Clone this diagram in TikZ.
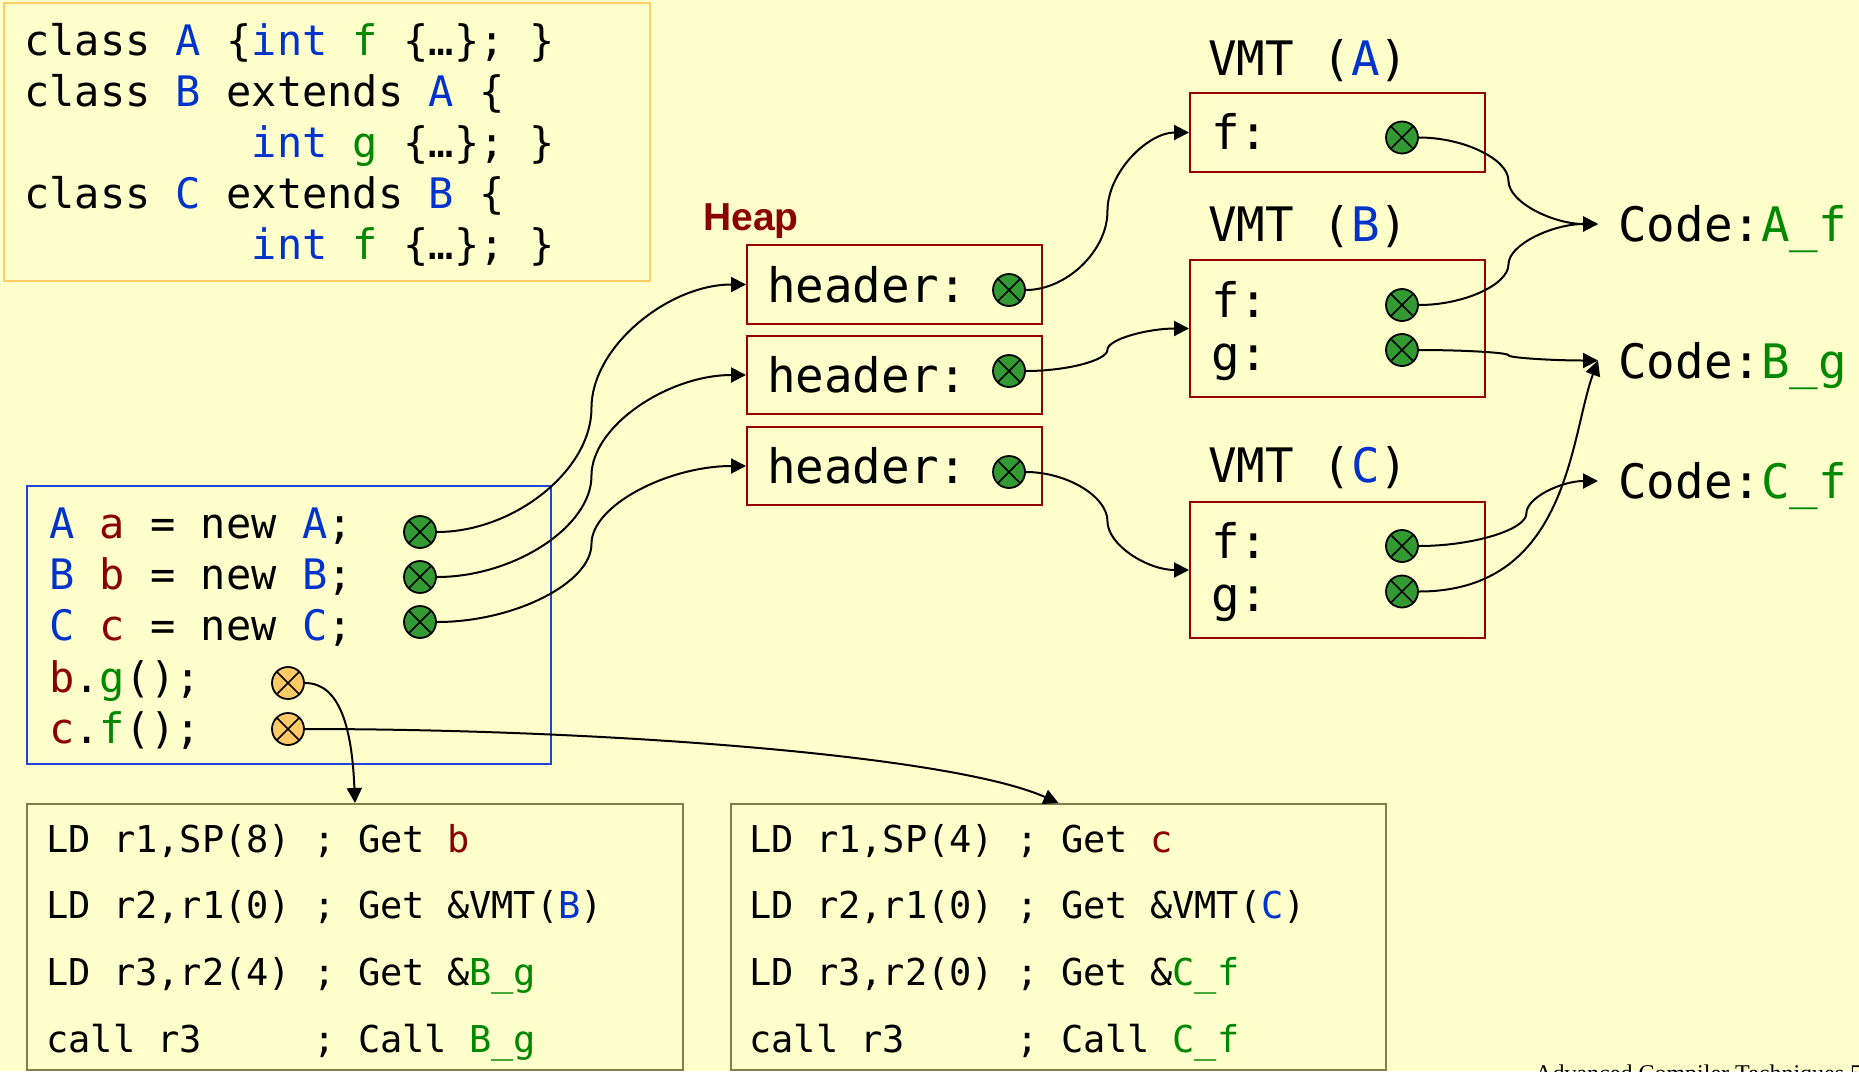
\documentclass[tikz,border=0pt]{standalone}
\usepackage{fontspec}
\setmonofont{DejaVu Sans Mono}
\newfontfamily\heapfont{Liberation Sans}
\newfontfamily\footfont{Liberation Serif}
\usetikzlibrary{arrows.meta,calc}

\definecolor{bg}{HTML}{FFFFCC}
\definecolor{kwblue}{HTML}{0033CC}
\definecolor{varred}{HTML}{8B0000}
\definecolor{fngreen}{HTML}{008800}
\definecolor{dotgreen}{HTML}{339933}
\definecolor{dotorange}{HTML}{FFC966}
\definecolor{boxred}{HTML}{990000}
\definecolor{boxorange}{HTML}{FFCC66}
\definecolor{boxblue}{HTML}{2244DD}
\definecolor{boxolive}{HTML}{7F7F4C}

\newcommand\kw[1]{\textcolor{kwblue}{#1}}
\newcommand\vr[1]{\textcolor{varred}{#1}}
\newcommand\fn[1]{\textcolor{fngreen}{#1}}

\tikzset{
  codetxt/.style={font=\ttfamily\fontsize{42}{50}\selectfont, inner sep=0pt, anchor=base west},
  bigtxt/.style={font=\ttfamily\fontsize{47.5}{56}\selectfont, inner sep=0pt, anchor=base west},
  asmtxt/.style={font=\ttfamily\fontsize{37}{44}\selectfont, inner sep=0pt, anchor=base west},
  codelabel/.style={bigtxt, inner xsep=20pt, inner ysep=0pt, text height=35pt, text depth=0pt},
  frame/.style={rectangle, draw, line width=2pt, inner sep=0pt},
  cell/.style={frame, draw=boxred, minimum width=295pt},
  ptr/.style={circle, draw=black, line width=1.8pt, minimum size=32pt, inner sep=0pt,
    fill=dotgreen,
    path picture={\draw[line width=1.5pt]
      (path picture bounding box.north west) -- (path picture bounding box.south east)
      (path picture bounding box.north east) -- (path picture bounding box.south west);}},
  callptr/.style={ptr, fill=dotorange},
  link/.style={line width=2pt, -{Triangle[length=15pt,width=15pt]}},
  % elbow-style S curve: horizontal out, vertical at the fraction #1 of the width, horizontal in
  sbend/.style={to path={let \p1=(\tikztostart), \p2=(\tikztotarget) in
    .. controls ({\x1+0.5*#1*(\x2-\x1)},\y1) and ({\x1+#1*(\x2-\x1)},{0.75*\y1+0.25*\y2})
    .. ({\x1+#1*(\x2-\x1)},{0.5*\y1+0.5*\y2})
    .. controls ({\x1+#1*(\x2-\x1)},{0.25*\y1+0.75*\y2}) and ({0.5*(\x1+#1*(\x2-\x1))+0.5*\x2},\y2)
    .. (\tikztotarget)}},
  sbend/.default=0.5,
}

\begin{document}
\begin{tikzpicture}[x=1pt,y=-1pt]
\fill[bg] (0,0) rectangle (1859,1071);
\useasboundingbox (0,0) rectangle (1859,1071);

% class declarations
\node[frame, draw=boxorange, minimum width=646pt, minimum height=278pt] (decl) at (327,142) {};
\node[codetxt] (decl1) at (24,55)  {class \kw{A} \{\kw{int} \fn{f} \{…\}; \}};
\node[codetxt] (decl2) at (24,106) {class \kw{B} extends \kw{A} \{};
\node[codetxt] (decl3) at (24,157) {\hphantom{class B e}\kw{int} \fn{g} \{…\}; \}};
\node[codetxt] (decl4) at (24,208) {class \kw{C} extends \kw{B} \{};
\node[codetxt] (decl5) at (24,259) {\hphantom{class C e}\kw{int} \fn{f} \{…\}; \}};

% heap objects
\node[font=\heapfont\bfseries\fontsize{39}{46}\selectfont, text=varred, inner sep=0pt, anchor=base west] (heap) at (703,230) {Heap};
\node[cell, minimum height=79pt] (hdr1) at (894.5,284.5) {};
\node[cell, minimum height=78pt] (hdr2) at (894.5,375) {};
\node[cell, minimum height=78pt] (hdr3) at (894.5,466) {};
\node[bigtxt] (hdrtxt1) at (767,302) {header:};
\node[bigtxt] (hdrtxt2) at (767,392) {header:};
\node[bigtxt] (hdrtxt3) at (767,483) {header:};
\node[ptr] (hA) at (1009,290) {};
\node[ptr] (hB) at (1009,371) {};
\node[ptr] (hC) at (1009,472) {};

% virtual method tables
\node[bigtxt] (vmtAt) at (1208,75)  {VMT (\kw{A})};
\node[bigtxt] (vmtBt) at (1208,241) {VMT (\kw{B})};
\node[bigtxt] (vmtCt) at (1208,482) {VMT (\kw{C})};
\node[cell, minimum height=79pt]  (vmtA) at (1337.5,132.5) {};
\node[cell, minimum height=137pt] (vmtB) at (1337.5,328.5) {};
\node[cell, minimum height=136pt] (vmtC) at (1337.5,570) {};
\node[bigtxt] (vAf) at (1211,149) {f:};
\node[bigtxt] (vBf) at (1211,317) {f:};
\node[bigtxt] (vBg) at (1211,370) {g:};
\node[bigtxt] (vCf) at (1211,558) {f:};
\node[bigtxt] (vCg) at (1211,611) {g:};
\node[ptr] (pAf) at (1402,137.5) {};
\node[ptr] (pBf) at (1402,305) {};
\node[ptr] (pBg) at (1402,350) {};
\node[ptr] (pCf) at (1402,546) {};
\node[ptr] (pCg) at (1402,591.5) {};

% method bodies
\node[codelabel] (codeA) at (1598,241.5) {Code:\fn{A\_f}};
\node[codelabel] (codeB) at (1598,378)   {Code:\fn{B\_g}};
\node[codelabel] (codeC) at (1598,498.5) {Code:\fn{C\_f}};

% client code
\node[frame, draw=boxblue, minimum width=524pt, minimum height=278pt] (client) at (289,625) {};
\node[codetxt] (c1) at (49,538) {\kw{A} \vr{a} = new \kw{A};};
\node[codetxt] (c2) at (49,589) {\kw{B} \vr{b} = new \kw{B};};
\node[codetxt] (c3) at (49,640) {\kw{C} \vr{c} = new \kw{C};};
\node[codetxt] (c4) at (49,692) {\vr{b}.\fn{g}();};
\node[codetxt] (c5) at (49,743) {\vr{c}.\fn{f}();};
\node[ptr] (oa) at (420,532) {};
\node[ptr] (ob) at (420,577) {};
\node[ptr] (oc) at (420,622) {};
\node[callptr] (callg) at (288,683) {};
\node[callptr] (callf) at (288,729) {};

% generated code
\node[frame, draw=boxolive, minimum width=656pt, minimum height=266pt] (asmB) at (355,937) {};
\node[frame, draw=boxolive, minimum width=655pt, minimum height=266pt] (asmC) at (1058.5,937) {};
\node[asmtxt] (b1) at (46,852)  {LD r1,SP(8) ; Get \vr{b}};
\node[asmtxt] (b2) at (46,918)  {LD r2,r1(0) ; Get \&VMT(\kw{B})};
\node[asmtxt] (b3) at (46,985)  {LD r3,r2(4) ; Get \&\fn{B\_g}};
\node[asmtxt] (b4) at (46,1052) {call r3~~~~~; Call \fn{B\_g}};
\node[asmtxt] (k1) at (749,852)  {LD r1,SP(4) ; Get \vr{c}};
\node[asmtxt] (k2) at (749,918)  {LD r2,r1(0) ; Get \&VMT(\kw{C})};
\node[asmtxt] (k3) at (749,985)  {LD r3,r2(0) ; Get \&\fn{C\_f}};
\node[asmtxt] (k4) at (749,1052) {call r3~~~~~; Call \fn{C\_f}};

% page footer, running off the lower edge
\node[font=\footfont\fontsize{24}{28}\selectfont, inner sep=0pt, anchor=base west] (foot) at (1535,1081) {Advanced Compiler Techniques 5};

% object references
\draw[link] (oa.east) to[sbend] (hdr1.west);
\draw[link] (ob.east) to[sbend] (hdr2.west);
\draw[link] (oc.east) to[sbend] (hdr3.west);
% headers to tables
\draw[link] (hA.east) to[sbend] (vmtA.west);
\draw[link] (hB.east) to[sbend] (vmtB.west);
\draw[link] (hC.east) to[sbend] (vmtC.west);
% table entries to code
\draw[link] (pAf.east) to[sbend] (codeA.west);
\draw[link] (pBf.east) to[sbend] (codeA.west);
\draw[link] (pBg.east) to[sbend] (codeB.west);
\draw[link] (pCf.east) to[sbend=0.6] (codeC.west);
\draw[link] (pCg.east) .. controls +(150,0) and +(-28,76) .. (codeB.west);
% call sites to generated code
\draw[link] (callg.east) .. controls +(35,0) and +(-3,-75) .. (asmB.north);
\draw[link] (callf.east) .. controls +(296,0) and +(-108,-48) .. (asmC.north);
\end{tikzpicture}
\end{document}
